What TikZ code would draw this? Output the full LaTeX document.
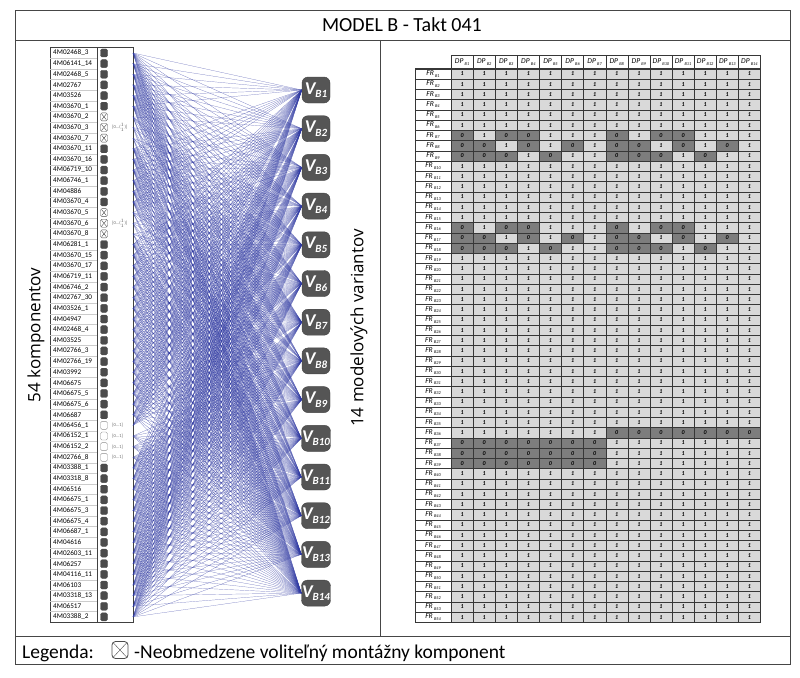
\documentclass[tikz,border=0pt]{standalone}
\usepackage{fontspec}
\setmainfont{Carlito}
\newfontfamily\labfont{Open Sans}

\definecolor{linkblue}{RGB}{45,55,160}
\definecolor{iconfill}{RGB}{75,75,75}
\definecolor{varfill}{RGB}{85,85,85}
\definecolor{onefill}{RGB}{217,217,217}
\definecolor{zerofill}{RGB}{125,125,125}
\definecolor{gridcol}{RGB}{55,55,55}
\definecolor{framecol}{RGB}{70,70,70}

% rows of the FR/DP matrix (1 = link drawn)
\newcommand\patA{{0,1,0,0,1,1,1,0,1,0,0,1,1,1}}
\newcommand\patB{{0,0,1,0,1,0,1,0,0,1,0,1,0,1}}
\newcommand\patC{{0,0,0,1,0,1,1,0,0,0,1,0,1,1}}
\newcommand\patD{{1,1,1,1,1,1,1,0,0,0,0,0,0,0}}
\newcommand\patE{{0,0,0,0,0,0,0,1,1,1,1,1,1,1}}
\newcommand\patF{{1,1,1,1,1,1,1,1,1,1,1,1,1,1}}
\newcommand\setpat[1]{%
  \let\pat\patF
  \ifnum#1=7 \let\pat\patA\fi
  \ifnum#1=16 \let\pat\patA\fi
  \ifnum#1=8 \let\pat\patB\fi
  \ifnum#1=17 \let\pat\patB\fi
  \ifnum#1=9 \let\pat\patC\fi
  \ifnum#1=18 \let\pat\patC\fi
  \ifnum#1=36 \let\pat\patD\fi
  \ifnum#1>36 \ifnum#1<40 \let\pat\patE\fi\fi}
\newcommand\frlab[1]{\textit{FR}\,\raisebox{-1.5pt}{\fontsize{4.3}{5}\selectfont\textit{B#1}}}
\newcommand\dplab[1]{\textit{DP}\,\raisebox{-1.5pt}{\fontsize{4.3}{5}\selectfont\textit{B#1}}}

\begin{document}
\begin{tikzpicture}[x=1pt,y=-1pt,
  comp/.style={anchor=west,inner sep=0pt,font=\fontsize{7.2}{7}\selectfont},
  fullicon/.style={fill=iconfill,draw=iconfill,rounded corners=1.5pt,minimum width=7pt,minimum height=8pt,inner sep=0pt},
  opticon/.style={fill=white,draw=black!45,rounded corners=1.5pt,minimum width=7pt,minimum height=8pt,inner sep=0pt},
  xicon/.style={opticon,draw=black!70,path picture={
      \draw[black!70,line width=0.4pt]
        ([shift={(1.3pt,1.3pt)}]path picture bounding box.south west) -- ([shift={(-1.3pt,-1.3pt)}]path picture bounding box.north east)
        ([shift={(1.3pt,-1.3pt)}]path picture bounding box.north west) -- ([shift={(-1.3pt,1.3pt)}]path picture bounding box.south east);}},
  optlab/.style={anchor=west,inner sep=0pt,text=black!60,font=\fontsize{4.5}{5}\selectfont},
  variant/.style={fill=varfill,draw=varfill!80!black,rounded corners=6pt,minimum width=28pt,minimum height=26pt,inner sep=0.5pt,text=white},
  link/.style={linkblue,line width=0.2pt,opacity=0.75},
  frcell/.style={draw=gridcol,fill=white,line width=0.4pt,minimum width=36pt,minimum height=10.25pt,inner sep=0pt,font=\fontsize{7.5}{8}\selectfont},
  dpcell/.style={frcell,minimum width=22.1pt,minimum height=13.9pt},
  onecell/.style={draw=gridcol,fill=onefill,line width=0.4pt,minimum width=22.1pt,minimum height=10.25pt,inner sep=0pt,font=\fontsize{6}{6}\selectfont\bfseries\itshape},
  zerocell/.style={onecell,fill=zerofill}]
\useasboundingbox (0,0) rectangle (800,677);

% frame
\draw[framecol,line width=0.8pt] (15,10) rectangle (790,664);
\draw[framecol,line width=0.8pt] (15,40) -- (790,40);
\draw[framecol,line width=0.8pt] (15,636) -- (790,636);
\draw[framecol,line width=0.8pt] (380,40) -- (380,636);
\node[font=\fontsize{20}{24}\selectfont] (title) at (402,25) {MODEL B - Takt 041};

% component list
\draw[black!75,line width=0.7pt] (50,47.7) rectangle (133,622.3);
\draw[black!75,line width=0.5pt] (97,47.7) -- (97,622.3);
\foreach \i in {1,...,53}
  \draw[black!20,line width=0.3pt] (50,{47.7+\i*10.64}) -- (97,{47.7+\i*10.64});
\foreach \i/\nm in {1/4M02468\_3,2/4M06141\_14,3/4M02468\_5,4/4M02767,5/4M03526,6/4M03670\_1,
    7/4M03670\_2,8/4M03670\_3,9/4M03670\_7,10/4M03670\_11,11/4M03670\_16,12/4M06719\_10,
    13/4M06746\_1,14/4M04886,15/4M03670\_4,16/4M03670\_5,17/4M03670\_6,18/4M03670\_8,
    19/4M06281\_1,20/4M03670\_15,21/4M03670\_17,22/4M06719\_11,23/4M06746\_2,24/4M02767\_30,
    25/4M03526\_1,26/4M04947,27/4M02468\_4,28/4M03525,29/4M02766\_3,30/4M02766\_19,
    31/4M03992,32/4M06675,33/4M06675\_5,34/4M06675\_6,35/4M06687,36/4M06456\_1,
    37/4M06152\_1,38/4M06152\_2,39/4M02766\_8,40/4M03388\_1,41/4M03318\_8,42/4M06516,
    43/4M06675\_1,44/4M06675\_3,45/4M06675\_4,46/4M06687\_1,47/4M04616,48/4M02603\_11,
    49/4M06257,50/4M04116\_11,51/4M06103,52/4M03318\_13,53/4M06517,54/4M03388\_2}
  \node[comp] (k\i) at (53,{53+(\i-1)*10.64}) {\nm};
\foreach \i in {1,...,6,10,11,...,15,19,20,...,35,40,41,...,54}
  \node[fullicon] (ic\i) at (104,{53+(\i-1)*10.64}) {};
\foreach \i in {7,8,9,16,17,18}
  \node[xicon] (ic\i) at (104,{53+(\i-1)*10.64}) {};
\foreach \i in {36,...,39}
  \node[opticon] (ic\i) at (104,{53+(\i-1)*10.64}) {};
\foreach \i in {8,17}
  \node[optlab] (ol\i) at (112,{53+(\i-1)*10.64}) {[0...($^1_1$)]};
\foreach \i in {36,...,39}
  \node[optlab] (ol\i) at (112,{53+(\i-1)*10.64}) {[0...1]};
\foreach \i in {1,...,54}
  \coordinate (p\i) at (133,{53+(\i-1)*10.64});
\node[rotate=90,font=\labfont\fontsize{17}{19}\selectfont] (ncomp) at (36,335) {54 komponentov};

% variants
\foreach \j in {1,...,14}
  \node[variant] (v\j) at (316,{90+(\j-1)*38.7})
    {\fontsize{18}{18}\selectfont\bfseries\itshape V\raisebox{-3.5pt}{\fontsize{11}{11}\selectfont B\j}};
\node[rotate=90,font=\labfont\fontsize{17}{19}\selectfont] (nvar) at (359,328) {14 modelových variantov};

% links
\foreach \i in {1,...,54}{
  \setpat{\i}
  \foreach \j in {1,...,14}{
    \pgfmathtruncatemacro\val{\pat[\j-1]}
    \ifnum\val=1 \draw[link] (p\i) -- (v\j.west); \fi
  }
}

% matrix
\foreach \c in {1,...,14}
  \node[dpcell] (dp\c) at ({451+(\c-0.5)*22.1},62) {\dplab{\c}};
\foreach \r in {1,...,54}{
  \setpat{\r}
  \node[frcell] (fr\r) at (433,{74.025+(\r-1)*10.25}) {\frlab{\r}};
  \foreach \c in {1,...,14}{
    \pgfmathtruncatemacro\val{\pat[\c-1]}
    \ifnum\val=1
      \node[onecell] (m\r-\c) at ({451+(\c-0.5)*22.1},{74.025+(\r-1)*10.25}) {1};
    \else
      \node[zerocell] (m\r-\c) at ({451+(\c-0.5)*22.1},{74.025+(\r-1)*10.25}) {0};
    \fi
  }
}
\draw[gridcol,line width=0.8pt] (415,68.9) rectangle (760.4,622.4);
\draw[gridcol,line width=0.8pt] (451,55) rectangle (760.4,68.9);

% legend
\node[anchor=base west,inner sep=0pt,font=\fontsize{19.5}{22}\selectfont] (leg) at (22,658) {Legenda:};
\node[xicon,minimum width=16pt,minimum height=17pt,rounded corners=3.5pt,line width=0.8pt] (legsym) at (120,650) {};
\node[anchor=base west,inner sep=0pt,font=\fontsize{19.5}{22}\selectfont] (legtxt) at (134,658) {-Neobmedzene voliteľný montážny komponent};
\end{tikzpicture}
\end{document}
